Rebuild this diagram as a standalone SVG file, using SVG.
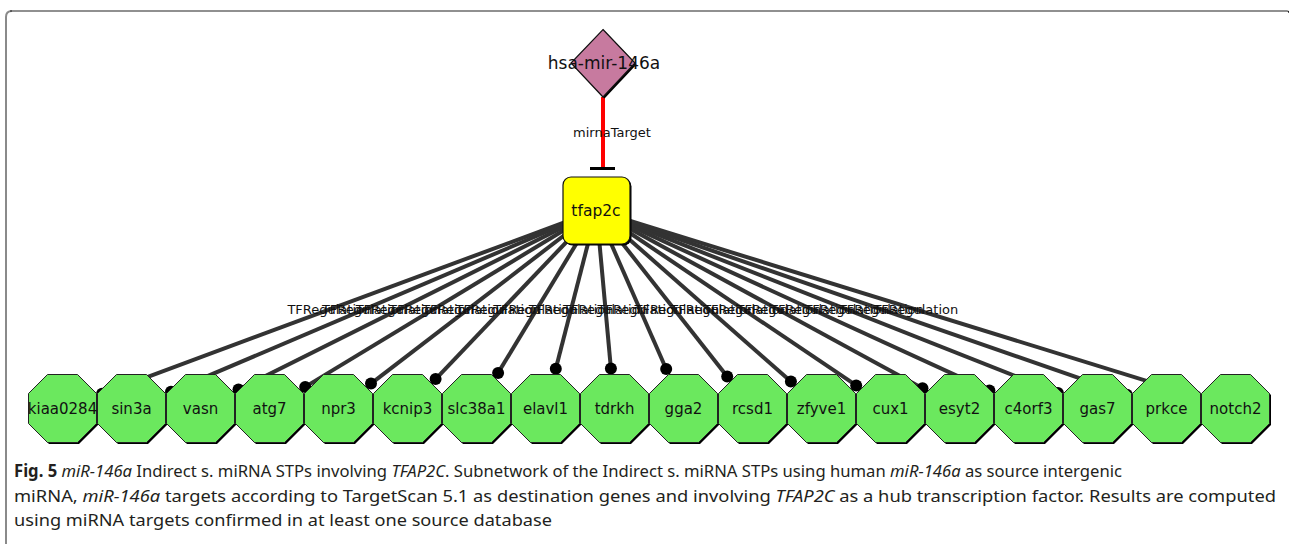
<svg xmlns="http://www.w3.org/2000/svg" xmlns:xlink="http://www.w3.org/1999/xlink" width="1289" height="544" viewBox="0 0 1289 544">
<style>
.edge{stroke:#333;stroke-width:4;fill:none}
.dot{fill:#000}
.elab{font-family:"DejaVu Sans",sans-serif;font-size:13px;fill:#111;text-anchor:middle}
.gene{fill:#6BE85E;stroke:#222;stroke-width:1}
.shadow{fill:#000}
.glab{font-family:"DejaVu Sans",sans-serif;font-size:15px;fill:#111;text-anchor:middle}
.cap{font-family:"Noto Sans","Open Sans",sans-serif;font-size:17px;fill:#231F20}
</style>
<defs>
<polygon id="oct" points="-15,-34 15,-34 34,-15 34,15 15,34 -15,34 -34,15 -34,-15"/>
</defs>
<rect width="1289" height="544" fill="#fff"/>
<g id="frame">
<path d="M6,544 V17 Q6,11 12,11" fill="none" stroke="#8a8a8a" stroke-width="2"/>
<path d="M10,11 H1287 Q1289,11 1289,13" fill="none" stroke="#222" stroke-width="1.2"/>
</g>
<g id="connectors">
<line x1="603" y1="97" x2="603" y2="168" stroke="#f00" stroke-width="4"/>
<line x1="590" y1="168.5" x2="615" y2="168.5" stroke="#000" stroke-width="3"/>
<text class="elab" x="612" y="137">mirnaTarget</text>
<g id="tf-edges">
<line class="edge" x1="596.5" y1="210.5" x2="102.1" y2="393.8"/>
<line class="edge" x1="596.5" y1="210.5" x2="171.0" y2="391.7"/>
<line class="edge" x1="596.5" y1="210.5" x2="238.5" y2="389.5"/>
<line class="edge" x1="596.5" y1="210.5" x2="305.2" y2="386.9"/>
<line class="edge" x1="596.5" y1="210.5" x2="371.0" y2="383.6"/>
<line class="edge" x1="596.5" y1="210.5" x2="435.6" y2="379.1"/>
<line class="edge" x1="596.5" y1="210.5" x2="498.1" y2="372.9"/>
<line class="edge" x1="596.5" y1="210.5" x2="555.8" y2="368.7"/>
<line class="edge" x1="596.5" y1="210.5" x2="610.9" y2="368.5"/>
<line class="edge" x1="596.5" y1="210.5" x2="666.2" y2="369.0"/>
<line class="edge" x1="596.5" y1="210.5" x2="727.2" y2="376.4"/>
<line class="edge" x1="596.5" y1="210.5" x2="790.9" y2="381.6"/>
<line class="edge" x1="596.5" y1="210.5" x2="856.2" y2="385.4"/>
<line class="edge" x1="596.5" y1="210.5" x2="922.5" y2="388.3"/>
<line class="edge" x1="596.5" y1="210.5" x2="989.4" y2="390.6"/>
<line class="edge" x1="596.5" y1="210.5" x2="1057.9" y2="392.9"/>
<line class="edge" x1="596.5" y1="210.5" x2="1126.8" y2="394.7"/>
<line class="edge" x1="596.5" y1="210.5" x2="1195.8" y2="396.2"/>
</g>
<g id="tf-dots">
<circle class="dot" cx="102.1" cy="393.8" r="6"/>
<circle class="dot" cx="171.0" cy="391.7" r="6"/>
<circle class="dot" cx="238.5" cy="389.5" r="6"/>
<circle class="dot" cx="305.2" cy="386.9" r="6"/>
<circle class="dot" cx="371.0" cy="383.6" r="6"/>
<circle class="dot" cx="435.6" cy="379.1" r="6"/>
<circle class="dot" cx="498.1" cy="372.9" r="6"/>
<circle class="dot" cx="555.8" cy="368.7" r="6"/>
<circle class="dot" cx="610.9" cy="368.5" r="6"/>
<circle class="dot" cx="666.2" cy="369.0" r="6"/>
<circle class="dot" cx="727.2" cy="376.4" r="6"/>
<circle class="dot" cx="790.9" cy="381.6" r="6"/>
<circle class="dot" cx="856.2" cy="385.4" r="6"/>
<circle class="dot" cx="922.5" cy="388.3" r="6"/>
<circle class="dot" cx="989.4" cy="390.6" r="6"/>
<circle class="dot" cx="1057.9" cy="392.9" r="6"/>
<circle class="dot" cx="1126.8" cy="394.7" r="6"/>
<circle class="dot" cx="1195.8" cy="396.2" r="6"/>
</g>
<g id="tf-labels">
<text class="elab" x="329.8" y="313.8">TFRegulation</text>
<text class="elab" x="364.3" y="313.8">TFRegulation</text>
<text class="elab" x="398.1" y="313.8">TFRegulation</text>
<text class="elab" x="431.5" y="313.8">TFRegulation</text>
<text class="elab" x="464.6" y="313.8">TFRegulation</text>
<text class="elab" x="498.0" y="313.8">TFRegulation</text>
<text class="elab" x="535.6" y="313.8">TFRegulation</text>
<text class="elab" x="571.1" y="313.8">TFRegulation</text>
<text class="elab" x="605.5" y="313.8">TFRegulation</text>
<text class="elab" x="639.9" y="313.8">TFRegulation</text>
<text class="elab" x="676.9" y="313.8">TFRegulation</text>
<text class="elab" x="712.7" y="313.8">TFRegulation</text>
<text class="elab" x="745.6" y="313.8">TFRegulation</text>
<text class="elab" x="778.9" y="313.8">TFRegulation</text>
<text class="elab" x="812.5" y="313.8">TFRegulation</text>
<text class="elab" x="846.8" y="313.8">TFRegulation</text>
<text class="elab" x="881.3" y="313.8">TFRegulation</text>
<text class="elab" x="915.8" y="313.8">TFRegulation</text>
</g>
</g>
<g id="hsa-mir-146a">
<polygon points="604.5,31 636.5,64.5 604.5,98.5 572.5,64.5" fill="#000"/>
<polygon points="603,29.5 635,63 603,97 571,63" fill="#C77A9F" stroke="#111" stroke-width="1.2"/>
<text x="604" y="69" style="font-family:'DejaVu Sans',sans-serif;font-size:17px;fill:#111;text-anchor:middle">hsa-mir-146a</text>
</g>
<g id="tfap2c">
<rect x="564.5" y="178.5" width="67" height="67" rx="8" fill="#000"/>
<rect x="563" y="177" width="67" height="67" rx="8" fill="#FFFF00" stroke="#111" stroke-width="1.2"/>
<text x="596" y="216" style="font-family:'DejaVu Sans',sans-serif;font-size:15.5px;fill:#111;text-anchor:middle">tfap2c</text>
</g>
<g id="kiaa0284" transform="translate(62.5,408.5)"><use href="#oct" class="shadow" x="1.5" y="1.5"/><use href="#oct" class="gene"/><text class="glab" y="5.5">kiaa0284</text></g>
<g id="sin3a" transform="translate(131.5,408.5)"><use href="#oct" class="shadow" x="1.5" y="1.5"/><use href="#oct" class="gene"/><text class="glab" y="5.5">sin3a</text></g>
<g id="vasn" transform="translate(200.5,408.5)"><use href="#oct" class="shadow" x="1.5" y="1.5"/><use href="#oct" class="gene"/><text class="glab" y="5.5">vasn</text></g>
<g id="atg7" transform="translate(269.5,408.5)"><use href="#oct" class="shadow" x="1.5" y="1.5"/><use href="#oct" class="gene"/><text class="glab" y="5.5">atg7</text></g>
<g id="npr3" transform="translate(338.5,408.5)"><use href="#oct" class="shadow" x="1.5" y="1.5"/><use href="#oct" class="gene"/><text class="glab" y="5.5">npr3</text></g>
<g id="kcnip3" transform="translate(407.5,408.5)"><use href="#oct" class="shadow" x="1.5" y="1.5"/><use href="#oct" class="gene"/><text class="glab" y="5.5">kcnip3</text></g>
<g id="slc38a1" transform="translate(476.5,408.5)"><use href="#oct" class="shadow" x="1.5" y="1.5"/><use href="#oct" class="gene"/><text class="glab" y="5.5">slc38a1</text></g>
<g id="elavl1" transform="translate(545.5,408.5)"><use href="#oct" class="shadow" x="1.5" y="1.5"/><use href="#oct" class="gene"/><text class="glab" y="5.5">elavl1</text></g>
<g id="tdrkh" transform="translate(614.5,408.5)"><use href="#oct" class="shadow" x="1.5" y="1.5"/><use href="#oct" class="gene"/><text class="glab" y="5.5">tdrkh</text></g>
<g id="gga2" transform="translate(683.5,408.5)"><use href="#oct" class="shadow" x="1.5" y="1.5"/><use href="#oct" class="gene"/><text class="glab" y="5.5">gga2</text></g>
<g id="rcsd1" transform="translate(752.5,408.5)"><use href="#oct" class="shadow" x="1.5" y="1.5"/><use href="#oct" class="gene"/><text class="glab" y="5.5">rcsd1</text></g>
<g id="zfyve1" transform="translate(821.5,408.5)"><use href="#oct" class="shadow" x="1.5" y="1.5"/><use href="#oct" class="gene"/><text class="glab" y="5.5">zfyve1</text></g>
<g id="cux1" transform="translate(890.5,408.5)"><use href="#oct" class="shadow" x="1.5" y="1.5"/><use href="#oct" class="gene"/><text class="glab" y="5.5">cux1</text></g>
<g id="esyt2" transform="translate(959.5,408.5)"><use href="#oct" class="shadow" x="1.5" y="1.5"/><use href="#oct" class="gene"/><text class="glab" y="5.5">esyt2</text></g>
<g id="c4orf3" transform="translate(1028.5,408.5)"><use href="#oct" class="shadow" x="1.5" y="1.5"/><use href="#oct" class="gene"/><text class="glab" y="5.5">c4orf3</text></g>
<g id="gas7" transform="translate(1097.5,408.5)"><use href="#oct" class="shadow" x="1.5" y="1.5"/><use href="#oct" class="gene"/><text class="glab" y="5.5">gas7</text></g>
<g id="prkce" transform="translate(1166.5,408.5)"><use href="#oct" class="shadow" x="1.5" y="1.5"/><use href="#oct" class="gene"/><text class="glab" y="5.5">prkce</text></g>
<g id="notch2" transform="translate(1235.5,408.5)"><use href="#oct" class="shadow" x="1.5" y="1.5"/><use href="#oct" class="gene"/><text class="glab" y="5.5">notch2</text></g>
<g id="caption">
<text class="cap" x="14" y="477" textLength="1108" lengthAdjust="spacingAndGlyphs"><tspan font-weight="bold">Fig. 5</tspan> <tspan font-style="italic">miR-146a</tspan> Indirect s. miRNA STPs involving <tspan font-style="italic">TFAP2C</tspan>. Subnetwork of the Indirect s. miRNA STPs using human <tspan font-style="italic">miR-146a</tspan> as source intergenic</text>
<text class="cap" x="14" y="501.5" textLength="1262" lengthAdjust="spacingAndGlyphs">miRNA, <tspan font-style="italic">miR-146a</tspan> targets according to TargetScan 5.1 as destination genes and involving <tspan font-style="italic">TFAP2C</tspan> as a hub transcription factor. Results are computed</text>
<text class="cap" x="14" y="526" textLength="538" lengthAdjust="spacingAndGlyphs">using miRNA targets confirmed in at least one source database</text>
</g>
</svg>
